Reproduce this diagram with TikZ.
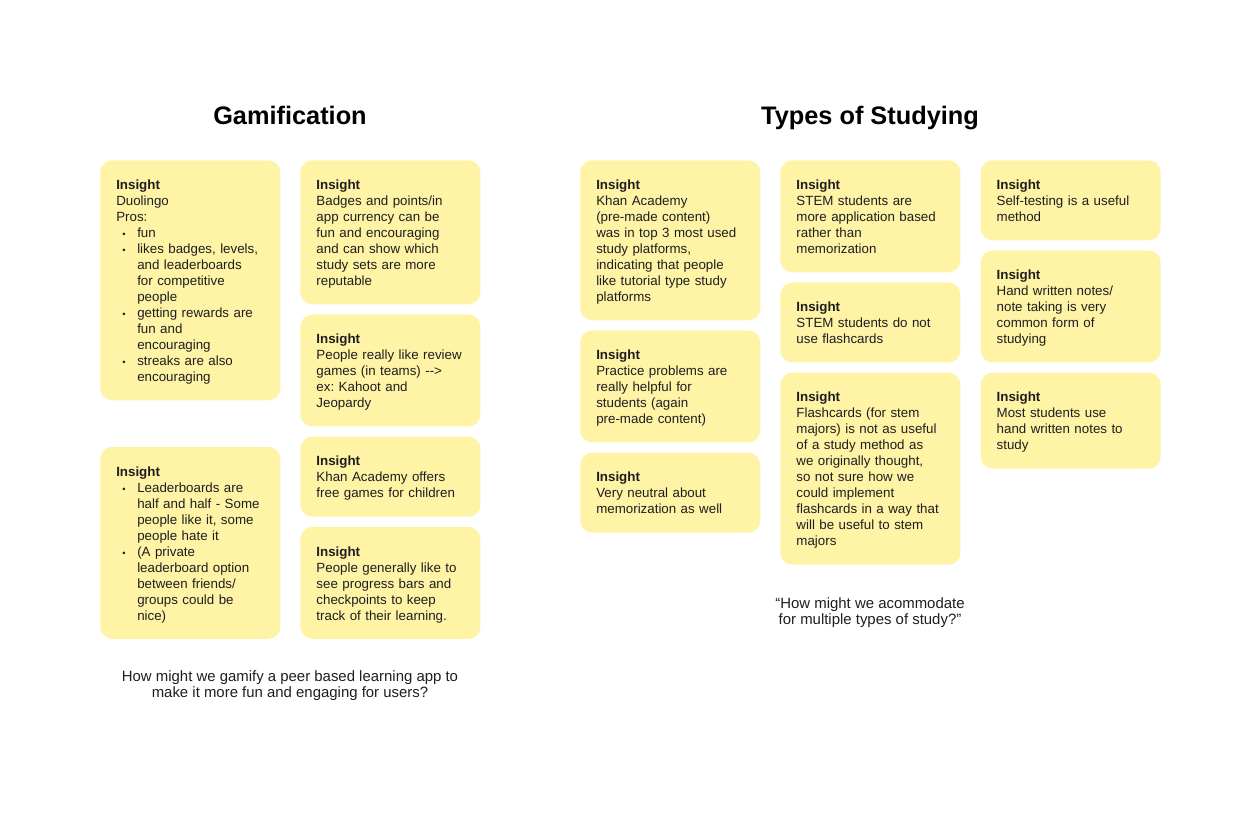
\documentclass[tikz,border=0pt]{standalone}
\usepackage{fontspec}
\setmainfont{Liberation Sans}
\usetikzlibrary{positioning}
\definecolor{Sticky}{HTML}{FFF3A6}
\definecolor{Ink}{HTML}{1E1E1E}
\newcommand{\itm}{\hspace*{4.5pt}\makebox[11.25pt][l]{{\scriptsize•}}}
\newcommand{\cnt}{\hspace*{15.75pt}}
\newcommand{\nstrut}{\rule[-2.1pt]{0pt}{12pt}}
\frenchspacing

\begin{document}
\begin{tikzpicture}[x=0.75pt,y=-0.75pt,
    note/.style={rounded corners=9pt,fill=Sticky,text=Ink,anchor=north west,
      text width=111pt,inner sep=12pt,align=left,
      font=\fontsize{10}{12}\selectfont,
      execute at begin node=\nstrut,execute at end node=\nstrut},
    ttl/.style={font=\fontsize{19}{22}\selectfont\bfseries,text=black,anchor=base},
    hmw/.style={font=\fontsize{11.2}{12}\selectfont,text=Ink,align=center},
    node distance=7.25pt and 14.75pt
  ]
  \useasboundingbox (0,0) rectangle (1260,826);

  % Gamification
  \node[ttl] (gam) at (290,124) {Gamification};
  \node[note] (a1) at (100,160) {\textbf{Insight}\\Duolingo\\Pros:\\
    \itm fun\\\itm likes badges, levels,\\\cnt and leaderboards\\\cnt for competitive\\\cnt people\\
    \itm getting rewards are\\\cnt fun and\\\cnt encouraging\\\itm streaks are also\\\cnt encouraging};
  \node[note,below=34.5pt of a1] (a2) {\textbf{Insight}\\
    \itm Leaderboards are\\\cnt half and half - Some\\\cnt people like it, some\\\cnt people hate it\\
    \itm (A private\\\cnt leaderboard option\\\cnt between friends/\\\cnt groups could be\\\cnt nice)};
  \node[note,right=of a1.north east,anchor=north west] (b1) {\textbf{Insight}\\Badges and points/in\\app currency can be\\fun and encouraging\\and can show which\\study sets are more\\reputable};
  \node[note,below=of b1] (b2) {\textbf{Insight}\\People really like review\\games (in teams) -{}-{}>\\ex: Kahoot and\\Jeopardy};
  \node[note,below=of b2] (b3) {\textbf{Insight}\\Khan Academy offers\\free games for children};
  \node[note,below=of b3] (b4) {\textbf{Insight}\\People generally like to\\see progress bars and\\checkpoints to keep\\track of their learning.};
  \node[hmw] (q1) at (290,686) {How might we gamify a peer based learning app to\\make it more fun and engaging for users?};

  % Types of Studying
  \node[ttl] (tos) at (870,124) {Types of Studying};
  \node[note] (c1) at (580,160) {\textbf{Insight}\\Khan Academy\\(pre-made content)\\was in top 3 most used\\study platforms,\\indicating that people\\like tutorial type study\\platforms};
  \node[note,below=of c1] (c2) {\textbf{Insight}\\Practice problems are\\really helpful for\\students (again\\pre-made content)};
  \node[note,below=of c2] (c3) {\textbf{Insight}\\Very neutral about\\memorization as well};
  \node[note,right=of c1.north east,anchor=north west] (d1) {\textbf{Insight}\\STEM students are\\more application based\\rather than\\memorization};
  \node[note,below=of d1] (d2) {\textbf{Insight}\\STEM students do not\\use flashcards};
  \node[note,below=of d2] (d3) {\textbf{Insight}\\Flashcards (for stem\\majors) is not as useful\\of a study method as\\we originally thought,\\so not sure how we\\could implement\\flashcards in a way that\\will be useful to stem\\majors};
  \node[note,right=of d1.north east,anchor=north west] (e1) {\textbf{Insight}\\Self-testing is a useful\\method};
  \node[note,below=of e1] (e2) {\textbf{Insight}\\Hand written notes/\\note taking is very\\common form of\\studying};
  \node[note,below=of e2] (e3) {\textbf{Insight}\\Most students use\\hand written notes to\\study};
  \node[hmw] (q2) at (870,613) {“How might we acommodate\\for multiple types of study?”};
\end{tikzpicture}
\end{document}
